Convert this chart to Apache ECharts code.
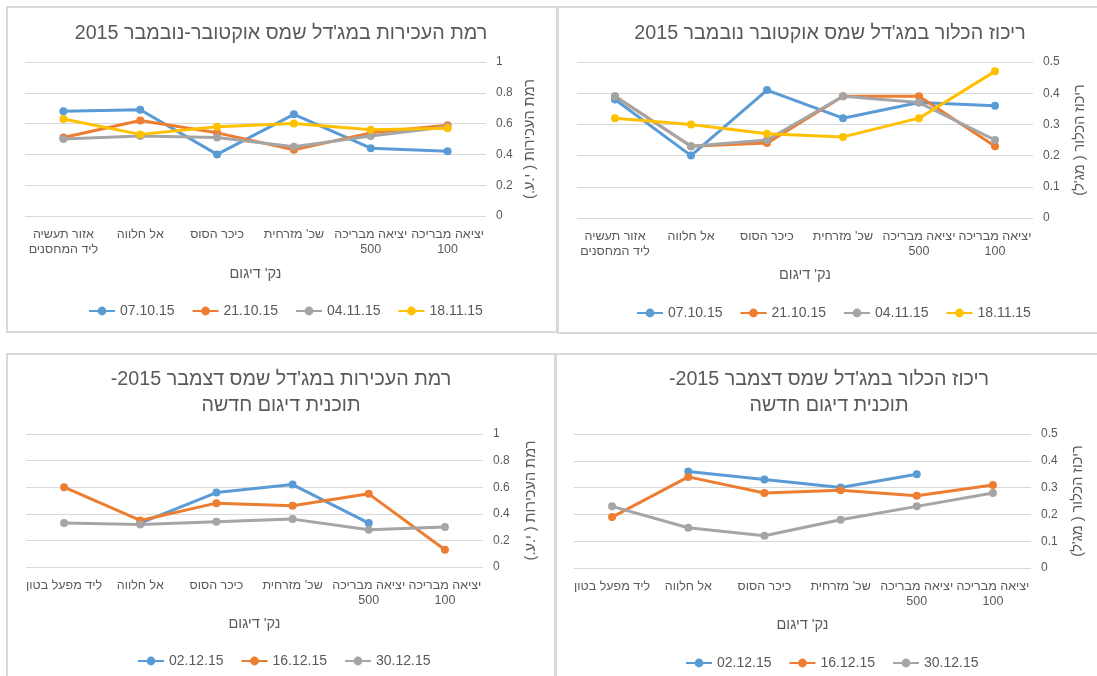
<!DOCTYPE html>
<html>
<head>
<meta charset="utf-8">
<script src="https://cdn.jsdelivr.net/npm/echarts@6/dist/echarts.min.js"></script>
<style>
html,body{margin:0;padding:0;background:#fff;}
#chart{width:1097px;height:676px;}
#chart canvas{direction:rtl;}
</style>
</head>
<body>
<div id="chart"></div>
<script>
// Categories in data order (first category is drawn at the right)
const catsTop = ["יציאה מבריכה 100", "יציאה מבריכה 500", "שכ' מזרחית", "כיכר הסוס", "אל חלווה", "אזור תעשיה ליד המחסנים"];
const catsBottom = ["יציאה מבריכה 100", "יציאה מבריכה 500", "שכ' מזרחית", "כיכר הסוס", "אל חלווה", "ליד מפעל בטון"];

const namesTop = ["07.10.15", "21.10.15", "04.11.15", "18.11.15"];
const namesBottom = ["02.12.15", "16.12.15", "30.12.15"];

// Turbidity Oct-Nov
const turbOct07 = [0.42, 0.44, 0.66, 0.40, 0.69, 0.68];
const turbOct21 = [0.59, 0.54, 0.43, 0.54, 0.62, 0.51];
const turbNov04 = [0.58, 0.52, 0.45, 0.51, 0.52, 0.50];
const turbNov18 = [0.57, 0.56, 0.60, 0.58, 0.53, 0.63];

// Chlorine Oct-Nov
const chlOct07 = [0.36, 0.37, 0.32, 0.41, 0.20, 0.38];
const chlOct21 = [0.23, 0.39, 0.39, 0.24, 0.23, 0.39];
const chlNov04 = [0.25, 0.37, 0.39, 0.25, 0.23, 0.39];
const chlNov18 = [0.47, 0.32, 0.26, 0.27, 0.30, 0.32];

// Turbidity December
const turbDec02 = [null, 0.33, 0.62, 0.56, 0.33, null];
const turbDec16 = [0.13, 0.55, 0.46, 0.48, 0.35, 0.60];
const turbDec30 = [0.30, 0.28, 0.36, 0.34, 0.32, 0.33];

// Chlorine December
const chlDec02 = [null, 0.35, 0.30, 0.33, 0.36, null];
const chlDec16 = [0.31, 0.27, 0.29, 0.28, 0.34, 0.19];
const chlDec30 = [0.28, 0.23, 0.18, 0.12, 0.15, 0.23];

const titleTL = "רמת העכירות במג'דל שמס אוקטובר-נובמבר 2015";
const titleTR = "ריכוז הכלור במג'דל שמס אוקטובר נובמבר 2015";
const titleBL = "רמת העכירות במג'דל שמס דצמבר 2015-\nתוכנית דיגום חדשה";
const titleBR = "ריכוז הכלור במג'דל שמס דצמבר 2015-\nתוכנית דיגום חדשה";
const xName = "נק' דיגום";
const yNameTurb = "רמת העכירות ( י.ע.)";
const yNameChl = "ריכוז הכלור ( מג'ל)";

const COLORS = ["#5B9BD5", "#ED7D31", "#A5A5A5", "#FFC000"];
const FONT = "'Liberation Sans', 'DejaVu Sans', sans-serif";
const TXT = "#595959";

const grids = [
  {left: 25, top: 62, width: 461, height: 154},
  {left: 577, top: 62, width: 456, height: 156},
  {left: 26, top: 434, width: 457, height: 133},
  {left: 574, top: 434, width: 457, height: 134}
];

// wrap a category label greedily into lines of at most 13 characters (word boundaries)
function wrapLabel(v) {
  const words = String(v).split(' ');
  const lines = [];
  let cur = '';
  words.forEach(function (w) {
    if (cur && (cur + ' ' + w).length > 13) { lines.push(cur); cur = w; }
    else { cur = cur ? cur + ' ' + w : w; }
  });
  if (cur) lines.push(cur);
  return lines.join('\n');
}

function xAx(i, cats, gap) {
  return {
    type: 'category', gridIndex: i, data: cats, inverse: true, boundaryGap: true,
    axisLine: {show: false}, axisTick: {show: false},
    axisLabel: {interval: 0, color: TXT, fontSize: 12.5, fontFamily: FONT, lineHeight: 15, margin: 11, formatter: wrapLabel},
    name: xName, nameLocation: 'middle', nameGap: gap, nameMoveOverlap: false,
    nameTextStyle: {color: TXT, fontSize: 14.5, fontFamily: FONT}
  };
}
function yAx(i, max, interval, name, gap) {
  return {
    type: 'value', gridIndex: i, position: 'right', min: 0, max: max, interval: interval,
    axisLine: {show: false}, axisTick: {show: false},
    axisLabel: {color: TXT, fontSize: 12, fontFamily: FONT, margin: 10},
    splitLine: {lineStyle: {color: '#d9d9d9', width: 1}},
    name: name, nameLocation: 'middle', nameGap: gap, nameRotate: 90, nameMoveOverlap: false,
    nameTextStyle: {color: TXT, fontSize: 14.5, fontFamily: FONT}
  };
}
function ser(i, name, data, color) {
  return {
    type: 'line', name: name, xAxisIndex: i, yAxisIndex: i, data: data,
    symbol: 'circle', symbolSize: 8, showSymbol: true, connectNulls: false,
    lineStyle: {width: 3, color: color}, itemStyle: {color: color},
    emphasis: {disabled: true}, animation: false
  };
}
function titleOf(text, x, y) {
  return {text: text, left: x, top: y, textAlign: 'center', padding: 0,
    textStyle: {color: TXT, fontSize: 19.7, fontWeight: 'normal', fontFamily: FONT, lineHeight: 26}};
}
function legendOf(names, x, y) {
  return {data: names, left: x, top: y, padding: 0, itemWidth: 26, itemHeight: 11, itemGap: 17,
    selectedMode: false, textStyle: {color: TXT, fontSize: 14, fontFamily: FONT}};
}
function border(x, y, w, h) {
  return {type: 'rect', shape: {x: x, y: y, width: w, height: h},
    style: {fill: 'none', stroke: '#d9d9d9', lineWidth: 2}, silent: true, z: -1};
}

const option = {
  backgroundColor: '#fff',
  animation: false,
  graphic: [border(7, 7, 550, 325), border(558, 7, 560, 326), border(7, 354, 548, 340), border(556, 354, 560, 340)],
  title: [titleOf(titleTL, 281, 21), titleOf(titleTR, 830, 21), titleOf(titleBL, 281, 367), titleOf(titleBR, 829, 367)],
  legend: [legendOf(namesTop, 88, 304), legendOf(namesTop, 636, 306), legendOf(namesBottom, 137, 654), legendOf(namesBottom, 685, 656)],
  grid: grids,
  xAxis: [xAx(0, catsTop, 50), xAx(1, catsTop, 49), xAx(2, catsBottom, 49), xAx(3, catsBottom, 49)],
  yAxis: [yAx(0, 1, 0.2, yNameTurb, 36), yAx(1, 0.5, 0.1, yNameChl, 39), yAx(2, 1, 0.2, yNameTurb, 40), yAx(3, 0.5, 0.1, yNameChl, 39)],
  series: [
    ser(0, namesTop[0], turbOct07, COLORS[0]),
    ser(0, namesTop[1], turbOct21, COLORS[1]),
    ser(0, namesTop[2], turbNov04, COLORS[2]),
    ser(0, namesTop[3], turbNov18, COLORS[3]),
    ser(1, namesTop[0], chlOct07, COLORS[0]),
    ser(1, namesTop[1], chlOct21, COLORS[1]),
    ser(1, namesTop[2], chlNov04, COLORS[2]),
    ser(1, namesTop[3], chlNov18, COLORS[3]),
    ser(2, namesBottom[0], turbDec02, COLORS[0]),
    ser(2, namesBottom[1], turbDec16, COLORS[1]),
    ser(2, namesBottom[2], turbDec30, COLORS[2]),
    ser(3, namesBottom[0], chlDec02, COLORS[0]),
    ser(3, namesBottom[1], chlDec16, COLORS[1]),
    ser(3, namesBottom[2], chlDec30, COLORS[2])
  ]
};

const chart = echarts.init(document.getElementById('chart'), null, {renderer: 'canvas'});
chart.setOption(option);
</script>
</body>
</html>
